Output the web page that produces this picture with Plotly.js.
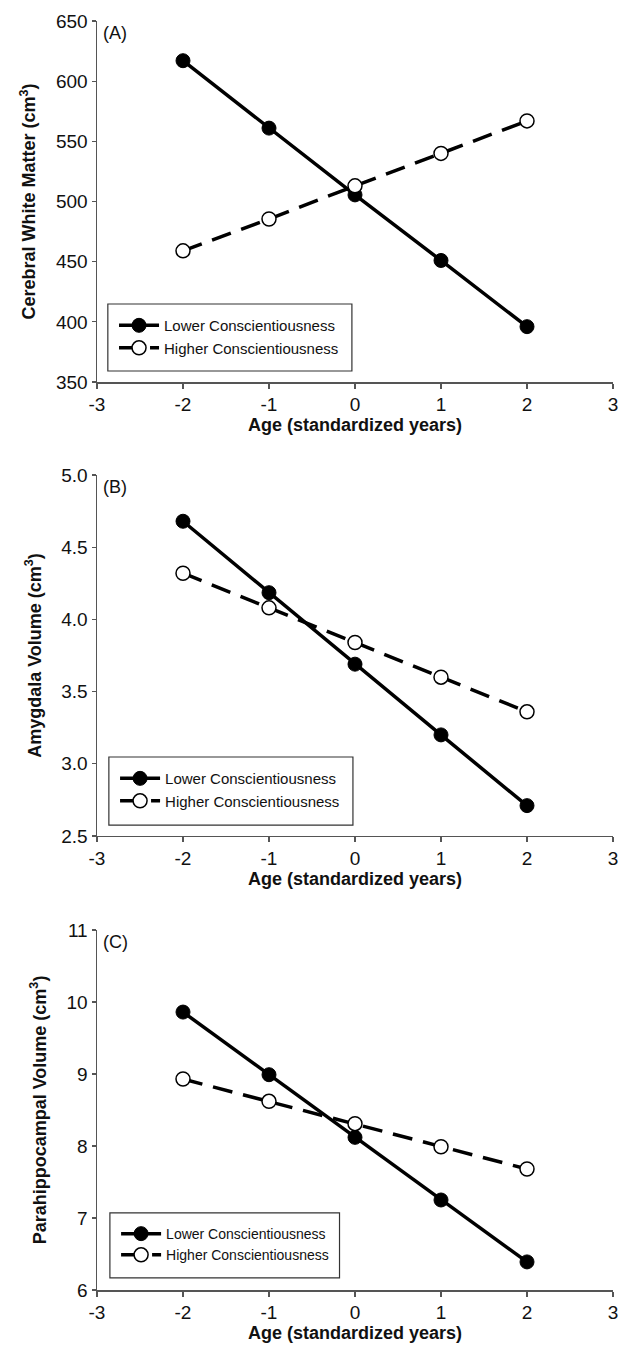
<!DOCTYPE html>
<html><head><meta charset="utf-8">
<script src="https://cdn.plot.ly/plotly-3.0.1.min.js"></script>
<style>html,body{margin:0;padding:0;background:#fff}#chart{width:620px;height:1346px}</style>
</head><body><div id="chart"></div>
<script>
const age = [-2, -1, 0, 1, 2];
const xTicks = [-3, -2, -1, 0, 1, 2, 3];
const xTickText = ["-3", "-2", "-1", "0", "1", "2", "3"];
const seriesNames = ["Lower Conscientiousness", "Higher Conscientiousness"];
const panelLabels = ["(A)", "(B)", "(C)"];
const yTitles = ["Cerebral White Matter (cm<sup>3</sup>)", "Amygdala Volume (cm<sup>3</sup>)", "Parahippocampal Volume (cm<sup>3</sup>)"];
const xTitle = "Age (standardized years)";
// Panel A: cerebral white matter
const wmLower = [617, 561, 505.5, 451, 396];
const wmHigher = [459, 485.5, 513, 540, 567];
// Panel B: amygdala
const amyLower = [4.68, 4.185, 3.69, 3.20, 2.71];
const amyHigher = [4.32, 4.08, 3.84, 3.60, 3.36];
// Panel C: parahippocampal
const phLower = [9.86, 8.99, 8.12, 7.25, 6.39];
const phHigher = [8.93, 8.62, 8.31, 7.99, 7.68];
const yRanges = [[350, 650], [2.5, 5.0], [6, 11]];
const yDticks = [50, 0.5, 1];
const yFormats = ["", ".1f", ""];

const lowers = [wmLower, amyLower, phLower];
const highers = [wmHigher, amyHigher, phHigher];

const FONT = "Liberation Sans, Arial, sans-serif";
const domains = [[0.7155, 1.0], [0.3578, 0.6422], [0.0, 0.2837]];
const legendFont = [15, 15, 14];
const boxes = [
  [0.021, 0.7242, 0.494, 0.777],
  [0.023, 0.3664, 0.496, 0.420],
  [0.025, 0.0095, 0.470, 0.0607]
];

const traces = [];
const layout = {
  width: 620, height: 1346,
  margin: {l: 97, r: 7, t: 21, b: 56},
  paper_bgcolor: "#fff", plot_bgcolor: "#fff",
  font: {family: FONT, color: "#111"},
  showlegend: true,
  shapes: [], annotations: []
};

for (let i = 0; i < 3; i++) {
  const sfx = i === 0 ? "" : String(i + 1);
  const xa = "x" + sfx, ya = "y" + sfx;
  const leg = i === 0 ? "legend" : "legend" + (i + 1);
  traces.push({
    x: age, y: lowers[i], xaxis: xa, yaxis: ya, legend: leg,
    name: seriesNames[0], mode: "lines+markers",
    line: {color: "#000", width: 3.5},
    marker: {symbol: "circle", size: 14, color: "#000", line: {color: "#000", width: 1}}
  });
  traces.push({
    x: age, y: highers[i], xaxis: xa, yaxis: ya, legend: leg,
    name: seriesNames[1], mode: "lines+markers",
    line: {color: "#000", width: 3.5, dash: "20px,11px"},
    marker: {symbol: "circle", size: 14, color: "#fff", line: {color: "#000", width: 1.5}}
  });
  layout["xaxis" + sfx] = {
    domain: [0, 1], anchor: ya, range: [-3, 3], tickvals: xTicks, ticktext: xTickText,
    ticklabeloverflow: "allow",
    showgrid: false, zeroline: false, showline: true, linecolor: "#555", linewidth: 1.5,
    ticks: "outside", ticklen: 5, tickcolor: "#555", tickwidth: 1.2,
    tickfont: {size: 19, family: FONT, color: "#111"},
    title: {text: "<b>" + xTitle + "</b>", font: {size: 18, family: FONT, color: "#111"}, standoff: 3},
    fixedrange: true
  };
  layout["yaxis" + sfx] = {
    domain: domains[i], anchor: xa, range: yRanges[i], dtick: yDticks[i], tick0: yRanges[i][0],
    tickformat: yFormats[i],
    showgrid: false, zeroline: false, showline: true, linecolor: "#555", linewidth: 1.5,
    ticks: "outside", ticklen: 4, tickcolor: "#555", tickwidth: 1.2,
    tickfont: {size: 19, family: FONT, color: "#111"},
    title: {text: "<b>" + yTitles[i] + "</b>", font: {size: 18, family: FONT, color: "#111"}, standoff: 15},
    fixedrange: true
  };
  const b = boxes[i];
  layout.shapes.push({type: "rect", xref: "paper", yref: "paper", x0: b[0], y0: b[1], x1: b[2], y1: b[3],
    line: {color: "#333", width: 1.2}, fillcolor: "rgba(0,0,0,0)"});
  layout[leg] = {
    x: b[0] + 0.012, y: b[3] - 0.004, xanchor: "left", yanchor: "top",
    bgcolor: "rgba(0,0,0,0)", borderwidth: 0,
    font: {size: legendFont[i], family: FONT, color: "#111"},
    itemwidth: 40, tracegroupgap: 2
  };
  layout.annotations.push({
    text: panelLabels[i], xref: "x" + sfx + " domain", yref: "y" + sfx + " domain",
    x: 0.008, y: 1.0, xanchor: "left", yanchor: "top", showarrow: false,
    font: {size: 18, family: FONT, color: "#111"}
  });
}

Plotly.newPlot("chart", traces, layout, {staticPlot: true, displayModeBar: false});
</script></body></html>
